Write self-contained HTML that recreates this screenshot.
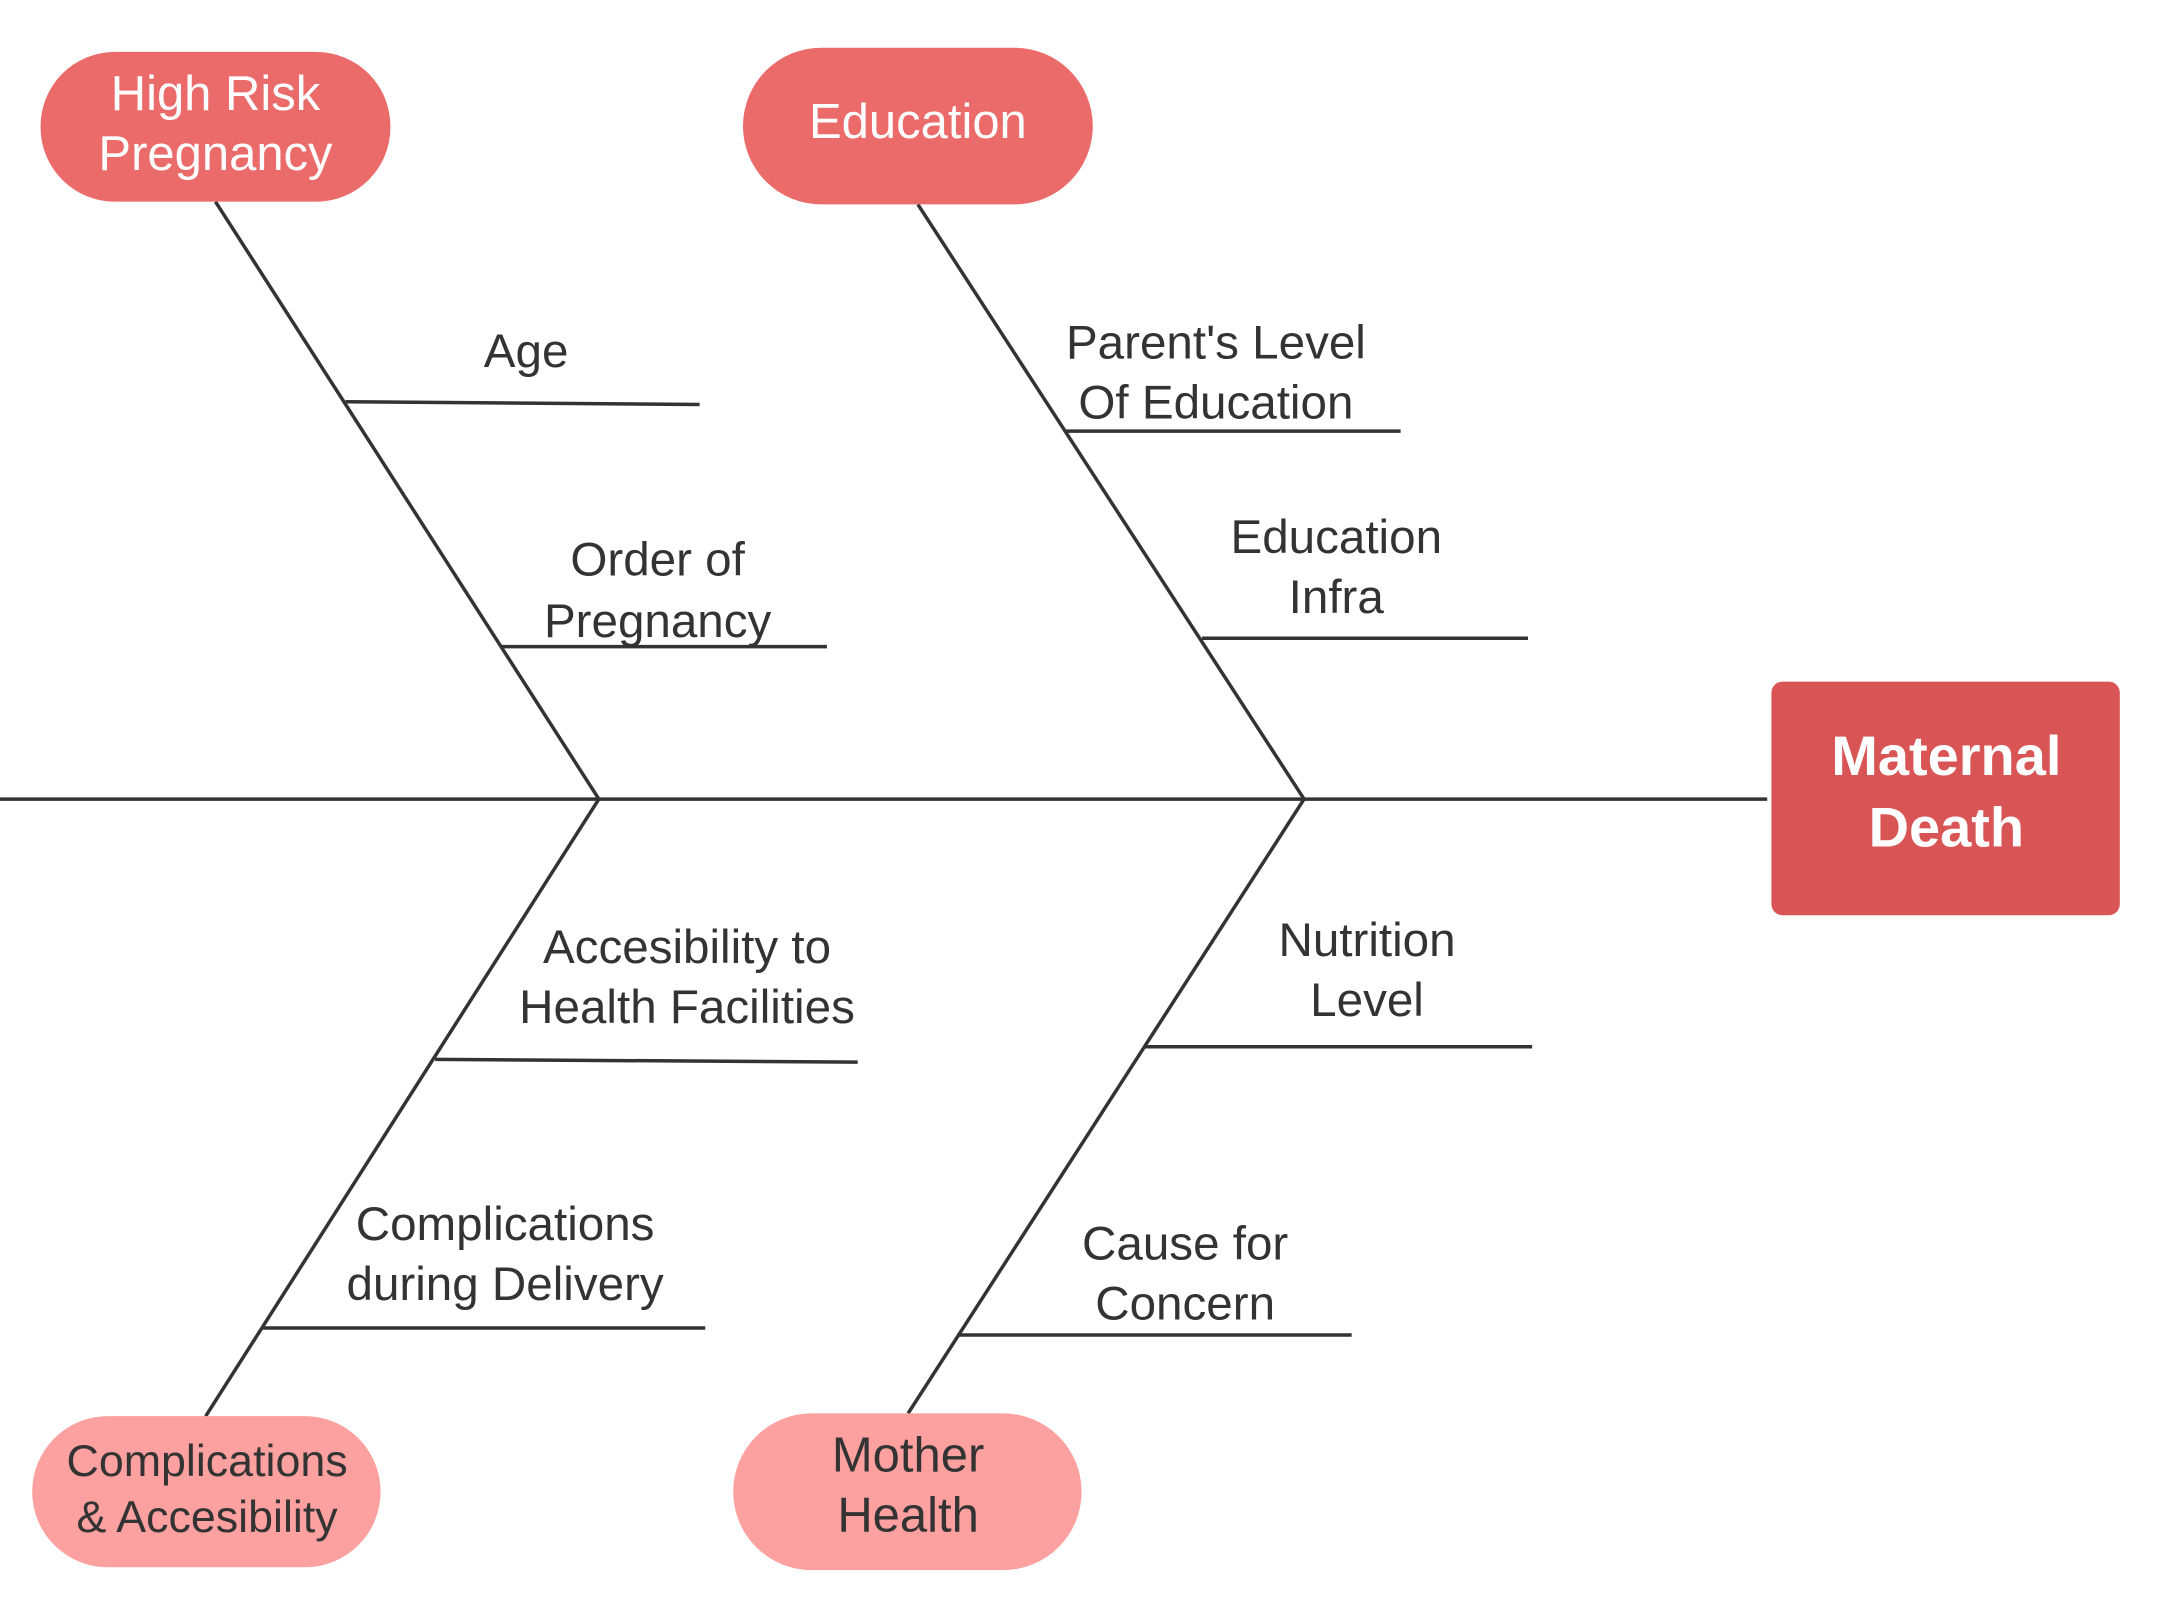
<!DOCTYPE html>
<html><head><meta charset="utf-8"><style>
html,body{margin:0;padding:0;background:#fff;}
svg{display:block;}
text{font-family:"Liberation Sans",sans-serif;text-anchor:middle;dominant-baseline:central;}
</style></head><body>
<svg width="2166" height="1622" viewBox="0 0 1548 1159" xmlns="http://www.w3.org/2000/svg">
<g stroke="#333" stroke-width="2.5" fill="none">
<line x1="0" y1="571" x2="1263" y2="571"/>
<line x1="154" y1="144" x2="428" y2="571"/>
<line x1="656" y1="146" x2="932" y2="571"/>
<line x1="428" y1="571" x2="147" y2="1012"/>
<line x1="932" y1="571" x2="649" y2="1010"/>
<line x1="247" y1="287" x2="500" y2="289"/>
<line x1="358" y1="462" x2="591" y2="462"/>
<line x1="762" y1="308" x2="1001" y2="308"/>
<line x1="859" y1="456" x2="1092" y2="456"/>
<line x1="311" y1="757" x2="613" y2="759"/>
<line x1="188" y1="949" x2="504" y2="949"/>
<line x1="818" y1="748" x2="1095" y2="748"/>
<line x1="684" y1="954" x2="966" y2="954"/>
</g>
<rect x="1266" y="487" width="249" height="167" rx="8" fill="#d95555"/>
<text x="1391" y="540" fill="#fff" font-size="40" font-weight="bold">Maternal</text>
<text x="1391" y="591" fill="#fff" font-size="40" font-weight="bold">Death</text>
<rect x="29" y="37" width="250" height="107" rx="53" fill="#eb6b6b"/>
<text x="154" y="67" fill="#fff" font-size="35">High Risk</text>
<text x="154" y="110" fill="#fff" font-size="35">Pregnancy</text>
<rect x="531" y="34" width="250" height="112" rx="56" fill="#eb6b6b"/>
<text x="656" y="87" fill="#fff" font-size="35">Education</text>
<rect x="23" y="1012" width="249" height="108" rx="54" fill="#fca0a0"/>
<text x="148" y="1044" fill="#333" font-size="32">Complications</text>
<text x="148" y="1084" fill="#333" font-size="32">&amp; Accesibility</text>
<rect x="524" y="1010" width="249" height="112" rx="56" fill="#fca0a0"/>
<text x="649" y="1040" fill="#333" font-size="35">Mother</text>
<text x="649" y="1083" fill="#333" font-size="35">Health</text>
<g fill="#333" font-size="34">
<text x="376" y="251">Age</text>
<text x="470" y="400">Order of</text>
<text x="470" y="444">Pregnancy</text>
<text x="869" y="245">Parent's Level</text>
<text x="869" y="288">Of Education</text>
<text x="955" y="384">Education</text>
<text x="955" y="427">Infra</text>
<text x="491" y="677">Accesibility to</text>
<text x="491" y="720">Health Facilities</text>
<text x="361" y="875">Complications</text>
<text x="361" y="918">during Delivery</text>
<text x="977" y="672">Nutrition</text>
<text x="977" y="715">Level</text>
<text x="847" y="889">Cause for</text>
<text x="847" y="932">Concern</text>
</g>
</svg>
</body></html>
